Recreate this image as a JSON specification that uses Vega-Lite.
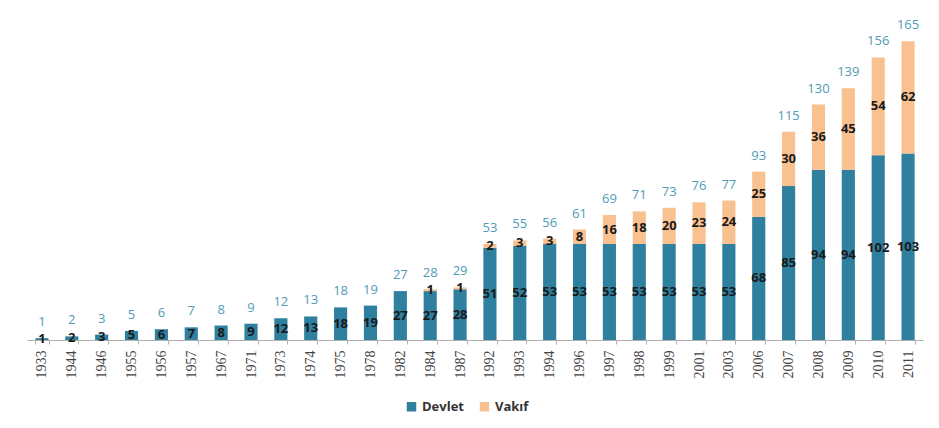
{
  "$schema": "https://vega.github.io/schema/vega-lite/v6.json",
  "autosize": {"type": "none"},
  "width": 896,
  "height": 326,
  "padding": {"left": 27, "top": 14, "right": 16, "bottom": 88},
  "background": "white",
  "config": {"view": {"stroke": null}, "font": "Open Sans"},
  "data": {"values": [
    {"year": "1933", "type": "Devlet", "value": 1},
    {"year": "1944", "type": "Devlet", "value": 2},
    {"year": "1946", "type": "Devlet", "value": 3},
    {"year": "1955", "type": "Devlet", "value": 5},
    {"year": "1956", "type": "Devlet", "value": 6},
    {"year": "1957", "type": "Devlet", "value": 7},
    {"year": "1967", "type": "Devlet", "value": 8},
    {"year": "1971", "type": "Devlet", "value": 9},
    {"year": "1973", "type": "Devlet", "value": 12},
    {"year": "1974", "type": "Devlet", "value": 13},
    {"year": "1975", "type": "Devlet", "value": 18},
    {"year": "1978", "type": "Devlet", "value": 19},
    {"year": "1982", "type": "Devlet", "value": 27},
    {"year": "1984", "type": "Devlet", "value": 27},
    {"year": "1987", "type": "Devlet", "value": 28},
    {"year": "1992", "type": "Devlet", "value": 51},
    {"year": "1993", "type": "Devlet", "value": 52},
    {"year": "1994", "type": "Devlet", "value": 53},
    {"year": "1996", "type": "Devlet", "value": 53},
    {"year": "1997", "type": "Devlet", "value": 53},
    {"year": "1998", "type": "Devlet", "value": 53},
    {"year": "1999", "type": "Devlet", "value": 53},
    {"year": "2001", "type": "Devlet", "value": 53},
    {"year": "2003", "type": "Devlet", "value": 53},
    {"year": "2006", "type": "Devlet", "value": 68},
    {"year": "2007", "type": "Devlet", "value": 85},
    {"year": "2008", "type": "Devlet", "value": 94},
    {"year": "2009", "type": "Devlet", "value": 94},
    {"year": "2010", "type": "Devlet", "value": 102},
    {"year": "2011", "type": "Devlet", "value": 103},
    {"year": "1984", "type": "Vakıf", "value": 1},
    {"year": "1987", "type": "Vakıf", "value": 1},
    {"year": "1992", "type": "Vakıf", "value": 2},
    {"year": "1993", "type": "Vakıf", "value": 3},
    {"year": "1994", "type": "Vakıf", "value": 3},
    {"year": "1996", "type": "Vakıf", "value": 8},
    {"year": "1997", "type": "Vakıf", "value": 16},
    {"year": "1998", "type": "Vakıf", "value": 18},
    {"year": "1999", "type": "Vakıf", "value": 20},
    {"year": "2001", "type": "Vakıf", "value": 23},
    {"year": "2003", "type": "Vakıf", "value": 24},
    {"year": "2006", "type": "Vakıf", "value": 25},
    {"year": "2007", "type": "Vakıf", "value": 30},
    {"year": "2008", "type": "Vakıf", "value": 36},
    {"year": "2009", "type": "Vakıf", "value": 45},
    {"year": "2010", "type": "Vakıf", "value": 54},
    {"year": "2011", "type": "Vakıf", "value": 62}
  ]},
  "encoding": {
    "x": {
      "field": "year", "type": "ordinal", "sort": null,
      "scale": {"paddingInner": 0.56, "paddingOuter": 0.28},
      "axis": {
        "title": null, "labelAngle": -90, "labelAlign": "right", "labelBaseline": "middle",
        "labelFont": "Liberation Sans Narrow", "labelFontSize": 14, "labelColor": "#444",
        "labelPadding": 6,
        "domainColor": "#b0b0b0", "tickColor": "#b0b0b0", "tickSize": 4, "tickBand": "extent"
      }
    }
  },
  "layer": [
    {
      "mark": {"type": "bar"},
      "encoding": {
        "y": {"field": "value", "type": "quantitative", "stack": "zero",
              "scale": {"domain": [0, 180], "nice": false}, "axis": null},
        "color": {"field": "type", "type": "nominal",
                  "scale": {"domain": ["Devlet", "Vakıf"], "range": ["#2f7f9e", "#f9c090"]},
                  "legend": {"title": null, "orient": "none", "direction": "horizontal",
                             "legendX": 378, "legendY": 386, "symbolType": "square", "symbolSize": 90,
                             "symbolStrokeWidth": 0, "labelFontSize": 13, "labelFontWeight": "bold",
                             "labelColor": "#333", "columnPadding": 14}},
        "order": {"field": "type", "sort": "ascending"}
      }
    },
    {
      "mark": {"type": "text", "fontWeight": "bold", "fontSize": 13, "color": "#1a1a1a", "baseline": "middle"},
      "encoding": {
        "y": {"field": "value", "type": "quantitative", "stack": "zero", "bandPosition": 0.5},
        "text": {"field": "value", "type": "quantitative"},
        "detail": {"field": "type"},
        "order": {"field": "type", "sort": "ascending"}
      }
    },
    {
      "transform": [{"aggregate": [{"op": "sum", "field": "value", "as": "total"}], "groupby": ["year"]}],
      "mark": {"type": "text", "fontSize": 13, "color": "#4f9bb6", "baseline": "bottom", "dy": -9},
      "encoding": {
        "y": {"field": "total", "type": "quantitative"},
        "text": {"field": "total", "type": "quantitative"}
      }
    }
  ]
}
